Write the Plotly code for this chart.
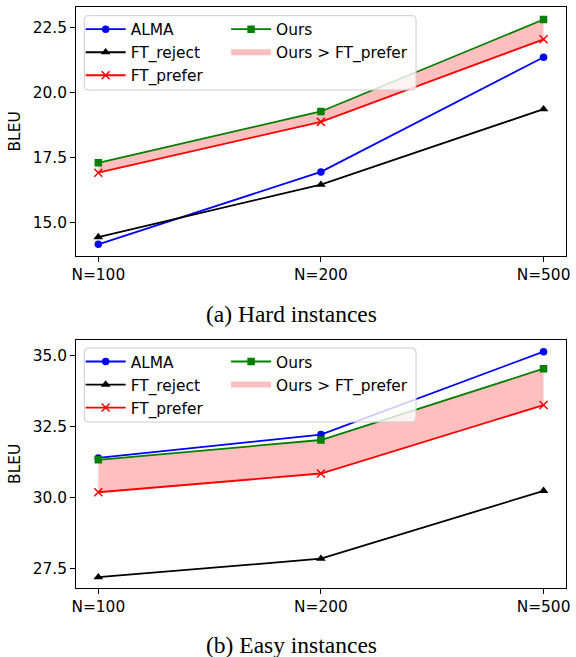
import plotly.graph_objects as go

categories = ["N=100", "N=200", "N=500"]

hard_alma = [14.18, 16.96, 21.36]
hard_reject = [14.46, 16.47, 19.37]
hard_prefer = [16.93, 18.88, 22.05]
hard_ours = [17.31, 19.28, 22.81]

easy_alma = [31.40, 32.22, 35.14]
easy_reject = [27.20, 27.85, 30.24]
easy_prefer = [30.19, 30.85, 33.26]
easy_ours = [31.33, 32.03, 34.54]

captions = ["(a) Hard instances", "(b) Easy instances"]
y_title = "BLEU"

W, H = 576, 657
FONT = "DejaVu Sans"
FS = 15.4

def px_x(x):
    return x / W

def px_y(y):
    return 1 - y / H

fig = go.Figure()

def add_panel(xa, ya, alma, reject, prefer, ours, lg1, lg2):
    fig.add_trace(go.Scatter(x=categories, y=prefer, mode="lines", line=dict(width=0, color="rgba(0,0,0,0)"),
                             showlegend=False, hoverinfo="skip", xaxis=xa, yaxis=ya))
    fig.add_trace(go.Scatter(x=categories, y=ours, mode="none", fill="tonexty",
                             fillcolor="rgba(255,0,0,0.25)", name="Ours > FT_prefer",
                             legend=lg2, legendrank=2, xaxis=xa, yaxis=ya))
    fig.add_trace(go.Scatter(x=categories, y=alma, mode="lines+markers", name="ALMA",
                             line=dict(color="#0000ff", width=1.8),
                             marker=dict(symbol="circle", size=7.5, color="#0000ff"),
                             legend=lg1, legendrank=1, xaxis=xa, yaxis=ya))
    fig.add_trace(go.Scatter(x=categories, y=reject, mode="lines+markers", name="FT_reject",
                             line=dict(color="black", width=1.8),
                             marker=dict(symbol="triangle-up", size=8.5, color="black"),
                             legend=lg1, legendrank=2, xaxis=xa, yaxis=ya))
    fig.add_trace(go.Scatter(x=categories, y=prefer, mode="lines+markers", name="FT_prefer",
                             line=dict(color="#ff0000", width=1.8),
                             marker=dict(symbol="x-thin", size=8, color="#ff0000",
                                         line=dict(color="#ff0000", width=1.5)),
                             legend=lg1, legendrank=3, xaxis=xa, yaxis=ya))
    fig.add_trace(go.Scatter(x=categories, y=ours, mode="lines+markers", name="Ours",
                             line=dict(color="#008000", width=1.8),
                             marker=dict(symbol="square", size=7.5, color="#008000"),
                             legend=lg2, legendrank=1, xaxis=xa, yaxis=ya))

add_panel("x", "y", hard_alma, hard_reject, hard_prefer, hard_ours, "legend", "legend2")
add_panel("x2", "y2", easy_alma, easy_reject, easy_prefer, easy_ours, "legend3", "legend4")

axis_common = dict(showline=True, mirror=True, linecolor="black", linewidth=1,
                   ticks="outside", ticklen=5, tickwidth=1, tickcolor="black",
                   showgrid=False, zeroline=False,
                   tickfont=dict(family=FONT, size=FS, color="black"))

xdom = [px_x(72.3), px_x(570.7)]
top_dom = [px_y(255.5), px_y(7.3)]
bot_dom = [px_y(587.7), px_y(340)]

fig.update_layout(
    width=W, height=H,
    margin=dict(l=0, r=0, t=0, b=0),
    plot_bgcolor="white", paper_bgcolor="white",
    font=dict(family=FONT, size=FS, color="black"),
    xaxis=dict(domain=xdom, anchor="y", type="category", range=[-0.1, 2.1], **axis_common),
    yaxis=dict(domain=top_dom, anchor="x", range=[13.75, 23.28], dtick=2.5, tick0=15, tickformat=".1f",
               title=dict(text=y_title, font=dict(family=FONT, size=FS), standoff=8), **axis_common),
    xaxis2=dict(domain=xdom, anchor="y2", type="category", range=[-0.1, 2.1], **axis_common),
    yaxis2=dict(domain=bot_dom, anchor="x2", range=[26.83, 35.55], dtick=2.5, tick0=27.5, tickformat=".1f",
                title=dict(text=y_title, font=dict(family=FONT, size=FS), standoff=8), **axis_common),
)

leg_common = dict(bgcolor="rgba(0,0,0,0)", borderwidth=0, xanchor="left", yanchor="top",
                  itemwidth=40,
                  font=dict(family=FONT, size=FS, color="black"), traceorder="normal")
fig.update_layout(
    legend=dict(x=px_x(77), y=px_y(12.7), **leg_common),
    legend2=dict(x=px_x(225), y=px_y(12.7), **leg_common),
    legend3=dict(x=px_x(77), y=px_y(345), **leg_common),
    legend4=dict(x=px_x(225), y=px_y(345), **leg_common),
)

def rounded_rect(x0, y0, x1, y1, r=4):
    rx, ry = r / W, r / H
    X0, X1 = px_x(x0), px_x(x1)
    Y0, Y1 = px_y(y0), px_y(y1)
    return (f"M {X0+rx},{Y0} L {X1-rx},{Y0} Q {X1},{Y0} {X1},{Y0-ry} "
            f"L {X1},{Y1+ry} Q {X1},{Y1} {X1-rx},{Y1} L {X0+rx},{Y1} "
            f"Q {X0},{Y1} {X0},{Y1+ry} L {X0},{Y0-ry} Q {X0},{Y0} {X0+rx},{Y0} Z")

for (ya, yb) in [(15.7, 90), (348, 422)]:
    fig.add_shape(type="path", path=rounded_rect(80.7, ya, 418.3, yb), xref="paper", yref="paper",
                  fillcolor="rgba(255,255,255,0.8)", line=dict(color="#cccccc", width=1), layer="above")

for cap, yc in zip(captions, [314, 645]):
    fig.add_annotation(text=cap, x=px_x(292), y=px_y(yc), xref="paper", yref="paper",
                       xanchor="center", yanchor="middle", showarrow=False,
                       font=dict(family="Liberation Serif", size=23.5, color="black"))

fig.write_html("out.html", config={"displayModeBar": False},
               post_script="document.body.style.margin='0px';document.body.style.overflow='hidden';")
